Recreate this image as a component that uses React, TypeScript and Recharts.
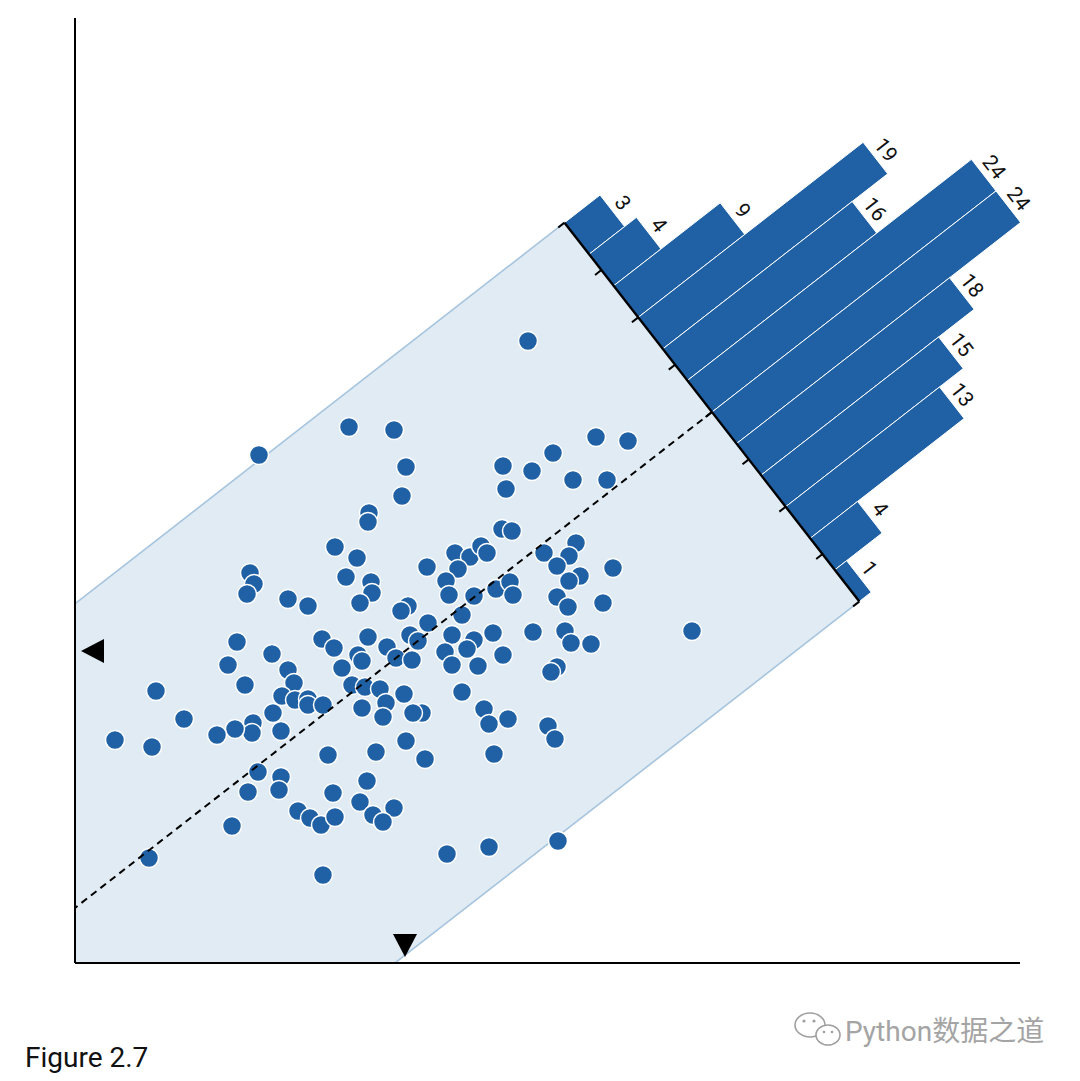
import React from "react";
import {
  ScatterChart,
  Scatter,
  XAxis,
  YAxis,
  ReferenceDot,
} from "recharts";

// scatter points (x, y) in plot units, 0..945 on both axes
const points: [number, number][] = [
  [453, 622], [184, 508], [274, 536], [319, 533], [331, 496], [327, 467], [294, 450], [293, 441],
  [428, 497], [457, 492], [478, 510], [498, 483], [521, 526], [553, 522], [532, 483], [431, 474],
  [427, 434], [437, 432], [352, 396], [380, 410], [395, 406], [406, 417], [412, 410], [383, 394],
  [371, 382], [374, 368], [399, 367], [421, 374], [435, 381], [438, 368], [469, 410], [501, 420],
  [494, 407], [482, 397], [505, 387], [494, 382], [538, 395], [482, 366], [493, 356], [528, 360],
  [333, 357], [326, 352], [260, 416], [282, 405], [271, 386], [296, 381], [297, 370], [175, 390],
  [179, 379], [172, 369], [213, 364], [233, 357], [285, 360],
  [162, 321], [197, 309], [153, 298], [213, 293], [219, 280], [170, 278], [207, 267], [220, 263],
  [233, 264], [233, 258], [248, 258], [247, 324], [259, 315], [267, 295], [293, 326], [283, 308],
  [287, 302], [277, 278], [290, 276], [312, 316], [321, 305], [305, 274], [81, 272], [353, 340],
  [335, 328], [343, 322], [337, 303], [387, 348], [377, 328], [399, 323], [418, 330], [370, 311],
  [392, 314], [377, 298], [403, 297], [428, 308], [458, 331], [490, 332], [496, 320], [516, 319],
  [617, 332], [482, 296], [476, 291], [329, 269], [387, 271],
  [311, 260], [308, 246], [287, 255], [198, 250], [206, 232], [178, 240], [177, 230], [160, 234],
  [142, 228], [109, 244], [40, 223], [77, 216], [301, 211], [253, 208], [183, 191], [206, 186],
  [204, 173], [173, 171], [292, 182], [258, 170], [285, 161], [319, 155], [298, 148], [308, 141],
  [223, 152], [235, 145], [246, 138], [260, 146], [157, 137], [74, 105], [248, 88], [409, 254],
  [414, 239], [433, 244], [347, 250], [338, 250], [331, 222], [350, 204], [419, 209], [473, 237],
  [480, 224], [372, 109], [414, 116], [483, 122],
];

// counts of the projected histogram, from the upper-left end of its axis
const binCounts = [3, 4, 9, 19, 16, 24, 24, 18, 15, 13, 4, 1];

// projection axis setup
const MEAN = { x: 330, y: 312 };
const ANGLE = 37.9; // degrees, direction of the principal axis
const AXIS_DIST = 389; // from mean to histogram axis
const HALF = 240; // half width of the band
const PER_COUNT = 15;
const TICKS = 9;

const BLUE = "#1f61a4";

const rad = (ANGLE * Math.PI) / 180;
const U = { x: Math.cos(rad), y: Math.sin(rad) };
const V = { x: Math.sin(rad), y: -Math.cos(rad) };
const C = { x: MEAN.x + AXIS_DIST * U.x, y: MEAN.y + AXIS_DIST * U.y };
const at = (s: number, t: number) => ({
  x: C.x + s * U.x + t * V.x,
  y: C.y + s * U.y + t * V.y,
});

const binW = (2 * HALF) / binCounts.length;
const scatterData = points.map(([x, y]) => ({ x, y }));
const bandData = [at(0, -HALF), at(0, HALF), at(-1400, HALF), at(-1400, -HALF)];
const dashData = [at(0, 0), at(-1400, 0)];
const histAxisData = [at(0, -HALF), at(0, HALF)];
const bars = binCounts.map((n, i) => {
  const t0 = -HALF + i * binW;
  const t1 = t0 + binW;
  const h = n * PER_COUNT;
  return {
    n,
    poly: [at(0, t0), at(h, t0), at(h, t1), at(0, t1)],
    label: at(h + 6, (t0 + t1) / 2),
  };
});
const axisTicks = Array.from({ length: TICKS }, (_, k) => -HALF + (k * 2 * HALF) / (TICKS - 1));

const polygonLine = (fill: string, stroke: string, sw: number) => (props: any) => (
  <polygon
    points={(props.points || []).map((p: any) => `${p.x},${p.y}`).join(" ")}
    fill={fill}
    stroke={stroke}
    strokeWidth={sw}
  />
);

const noShape = () => <g />;

const dotShape = (p: any) => (
  <circle cx={p.cx} cy={p.cy} r={9.5} fill={BLUE} stroke="#fff" strokeWidth={1.5} />
);

const labelShape = (text: string) => (p: any) => (
  <text
    x={p.cx}
    y={p.cy}
    transform={`rotate(${90 - ANGLE} ${p.cx} ${p.cy})`}
    textAnchor="middle"
    fontSize={21}
    fontFamily="Roboto, sans-serif"
    fill="#111"
  >
    {text}
  </text>
);

const downTriangle = (p: any) => (
  <polygon
    points={`${p.cx - 12},${p.cy - 29} ${p.cx + 12},${p.cy - 29} ${p.cx},${p.cy - 6}`}
    fill="#000"
  />
);

const leftTriangle = (p: any) => (
  <polygon
    points={`${p.cx + 6},${p.cy} ${p.cx + 29},${p.cy - 12} ${p.cx + 29},${p.cy + 12}`}
    fill="#000"
  />
);

export default function App() {
  return (
    <div style={{ position: "absolute", left: 0, top: 0, width: 1080, height: 1081, background: "#fff" }}>
      <ScatterChart
        width={1080}
        height={1081}
        margin={{ top: 18, right: 60, bottom: 108, left: 65 }}
      >
        <XAxis
          type="number"
          dataKey="x"
          domain={[0, 945]}
          allowDataOverflow
          ticks={[0, 945]}
          interval={0}
          tick={false}
          tickSize={8}
          height={10}
          axisLine={{ stroke: "#000", strokeWidth: 2 }}
          tickLine={{ stroke: "#000", strokeWidth: 2 }}
          zIndex={1200}
        />
        <YAxis
          type="number"
          dataKey="y"
          domain={[0, 945]}
          allowDataOverflow
          ticks={[0, 945]}
          interval={0}
          tick={false}
          tickSize={8}
          width={10}
          axisLine={{ stroke: "#000", strokeWidth: 2 }}
          tickLine={{ stroke: "#000", strokeWidth: 2 }}
          zIndex={1200}
        />
        <Scatter
          data={bandData}
          shape={noShape}
          line={polygonLine("#e0ebf3", "#a6c4de", 1.6)}
          isAnimationActive={false}
          zIndex={100}
        />
        <Scatter data={scatterData} shape={dotShape} isAnimationActive={false} zIndex={200} />
        <Scatter
          data={dashData}
          shape={noShape}
          line={{ stroke: "#000", strokeWidth: 2, strokeDasharray: "7 5" }}
          isAnimationActive={false}
          zIndex={300}
        />
        {bars.map((b, i) => (
          <Scatter
            key={`bar-${i}`}
            data={b.poly}
            shape={noShape}
            line={polygonLine(BLUE, "#fff", 1)}
            isAnimationActive={false}
            zIndex={400}
          />
        ))}
        <Scatter
          data={histAxisData}
          shape={noShape}
          line={{ stroke: "#000", strokeWidth: 2.4 }}
          isAnimationActive={false}
          zIndex={500}
        />
        {axisTicks.map((t, k) => (
          <Scatter
            key={`tick-${k}`}
            data={[at(0, t), at(-8, t)]}
            shape={noShape}
            line={{ stroke: "#000", strokeWidth: 2 }}
            isAnimationActive={false}
            zIndex={500}
          />
        ))}
        {bars.map((b, i) => (
          <ReferenceDot
            key={`lab-${i}`}
            x={b.label.x}
            y={b.label.y}
            ifOverflow="visible"
            shape={labelShape(String(b.n))}
            zIndex={1300}
          />
        ))}
        <ReferenceDot x={MEAN.x} y={0} ifOverflow="visible" shape={downTriangle} zIndex={1300} />
        <ReferenceDot x={0} y={MEAN.y} ifOverflow="visible" shape={leftTriangle} zIndex={1300} />
      </ScatterChart>
      <svg
        width={1080}
        height={1081}
        style={{ position: "absolute", left: 0, top: 0, pointerEvents: "none" }}
      >
        <text x={25} y={1067} fontSize={28} fontFamily="Roboto, sans-serif" fill="#111">
          Figure 2.7
        </text>
        <g fill="#fff" stroke="#a0a0a0" strokeWidth={1.6}>
          <ellipse cx={810} cy={1025} rx={15} ry={12} />
          <ellipse cx={828} cy={1035} rx={12} ry={10} />
        </g>
        <g fill="#a0a0a0">
          <circle cx={804} cy={1021} r={1.6} />
          <circle cx={814} cy={1021} r={1.6} />
          <circle cx={824} cy={1032} r={1.3} />
          <circle cx={832} cy={1032} r={1.3} />
        </g>
        <text x={845} y={1041} fontSize={28} fontFamily="Roboto, 'Noto Sans CJK SC', sans-serif" fill="#a4a4a4">
          Python数据之道
        </text>
      </svg>
    </div>
  );
}
